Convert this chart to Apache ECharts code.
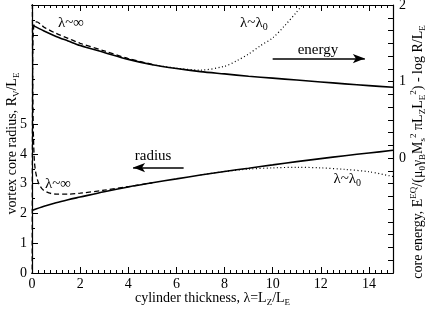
<!DOCTYPE html>
<html><head><meta charset="utf-8">
<script src="https://cdn.jsdelivr.net/npm/echarts@6/dist/echarts.min.js"></script>
<style>html,body{margin:0;padding:0;background:#fff}#c{width:431px;height:310px}</style>
</head><body><div id="c"></div>
<script>
// ---- data ----
const xTickLabels = [0, 2, 4, 6, 8, 10, 12, 14];
const leftTickLabels = [0, 1, 2, 3, 4, 5];
const rightTickLabels = [0, 1, 2];

// radius (left axis)  [lambda, R_V/L_E]
const radiusSolid = [[0,2.1],[0.5,2.24],[1,2.36],[1.5,2.46],[2,2.55],[3,2.73],[4,2.89],[5,3.03],[6,3.16],[7,3.29],[8,3.41],[9,3.52],[10,3.63],[11,3.74],[12,3.84],[13,3.94],[14,4.03],[15,4.12]];
const radiusInf = [[0.01,12],[0.02,8],[0.035,6],[0.05,5],[0.07,4.3],[0.1,3.75],[0.15,3.4],[0.22,3.15],[0.3,2.97],[0.45,2.8],[0.7,2.69],[1,2.65],[1.5,2.65],[2,2.68],[3,2.78],[4,2.9],[5,3.03]];
const radiusLam0 = [[7,3.29],[8,3.41],[9,3.49],[10,3.53],[11,3.55],[12,3.53],[13,3.48],[14,3.4],[15,3.24]];
// energy (right axis)
const energySolid = [[0,1.74],[0.5,1.66],[1,1.59],[1.5,1.53],[2,1.47],[3,1.38],[4,1.29],[5,1.22],[6,1.17],[7,1.13],[8,1.1],[9,1.07],[10,1.045],[11,1.02],[12,0.995],[13,0.97],[14,0.947],[15,0.925]];
const energyInf = [[0.005,-2.5],[0.01,-1],[0.015,0],[0.02,0.7],[0.03,1.3],[0.05,1.62],[0.1,1.76],[0.2,1.78],[0.35,1.75],[0.5,1.71],[1,1.63],[1.5,1.565],[2,1.5],[3,1.4],[4,1.3],[5,1.225]];
const energyLam0 = [[5,1.22],[6,1.175],[7,1.15],[8,1.2],[8.5,1.27],[9,1.36],[9.5,1.47],[10,1.57],[10.5,1.73],[11,1.91],[11.3,2.03]];

// annotations
const energyArrow = [[10.0,1.30],[13.83,1.30]];
const radiusArrow = [[6.3,3.54],[4.2,3.54]];

// ---- chart ----
const FONT = 'Liberation Serif';
const black = '#000';
const sub = {fontFamily: FONT, fontSize: 9, verticalAlign: 'bottom', lineHeight: 10, color: black};
const sup = {fontFamily: FONT, fontSize: 9, verticalAlign: 'top', lineHeight: 10, color: black};
const ann = {fontFamily: FONT, fontSize: 15, color: black, lineHeight: 18, rich: {s: Object.assign({}, sub, {fontSize: 10})}};

function mkX(pos, major, withLabel) {
  return {
    type: 'value', min: 0, max: 15, interval: major ? 2 : 0.25, position: pos,
    axisLine: {onZero: false, lineStyle: {color: black, width: 1.2}},
    axisTick: {inside: true, length: major ? 6 : 3, lineStyle: {color: black}},
    splitLine: {show: false},
    axisLabel: withLabel ? {show: true, margin: 4, fontFamily: FONT, fontSize: 14, color: black,
      showMaxLabel: false, formatter: v => xTickLabels.includes(v) ? String(v) : ''} : {show: false},
    name: withLabel ? 'cylinder thickness, λ=L{s|Z}/L{s|E}' : '',
    nameLocation: 'middle', nameGap: 16, nameMoveOverlap: false,
    nameTextStyle: {fontFamily: FONT, fontSize: 14, color: black, lineHeight: 18, rich: {s: sub}}
  };
}

const option = {
  animation: false,
  backgroundColor: '#fff',
  grid: {left: 32, right: 38, top: 5, bottom: 37, containLabel: false, outerBoundsMode: 'none'},
  xAxis: [mkX('bottom', true, true), mkX('bottom', false, false), mkX('top', true, false), mkX('top', false, false)],
  yAxis: [
    {
      type: 'value', min: 0, max: 9, interval: 1, position: 'left',
      axisLine: {onZero: false, lineStyle: {color: black, width: 1.2}},
      axisTick: {inside: true, length: 6, lineStyle: {color: black}},
      minorTick: {show: true, splitNumber: 2, length: 3, lineStyle: {color: black}},
      splitLine: {show: false}, minorSplitLine: {show: false},
      axisLabel: {margin: 5, fontFamily: FONT, fontSize: 14, color: black,
        formatter: v => leftTickLabels.includes(v) ? String(v) : ''},
      name: 'vortex core radius, R{s|V}/L{s|E}', nameLocation: 'middle', nameGap: 11, nameMoveOverlap: false,
      nameTextStyle: {fontFamily: FONT, fontSize: 14, color: black, lineHeight: 18, padding: [0, 9, 0, 0], rich: {s: sub}}
    },
    {
      type: 'value', min: -1.5, max: 2, interval: 1/6, position: 'right',
      axisLine: {onZero: false, lineStyle: {color: black, width: 1.2}},
      axisTick: {inside: true, length: 5, lineStyle: {color: black}},
      splitLine: {show: false},
      axisLabel: {margin: 6, fontFamily: FONT, fontSize: 14, color: black, showMinLabel: false,
        formatter: v => { const k = Math.round(v * 6); return (Math.abs(v * 6 - k) < 1e-6 && k % 6 === 0 && rightTickLabels.includes(k / 6)) ? String(k / 6) : ''; }},
      name: 'core energy, E{p|EQ}/(μ{s|0}γ{s|B}M{s|s}{p|2} πL{s|Z}L{s|E}{p|2}) - log R/L{s|E}',
      nameLocation: 'middle', nameGap: 16, nameMoveOverlap: false,
      nameTextStyle: {fontFamily: FONT, fontSize: 14, color: black, lineHeight: 18, padding: [0, 26, 0, 0], rich: {s: sub, p: sup}}
    }
  ],
  series: [
    {type: 'line', name: 'radius', xAxisIndex: 0, yAxisIndex: 0, data: radiusSolid, showSymbol: false, smooth: 0.3,
      lineStyle: {color: black, width: 1.6}, silent: true,
      markLine: {silent: true, symbol: ['none', 'arrow'], symbolSize: [7, 12], label: {show: false},
        lineStyle: {color: black, width: 1.5, type: 'solid'},
        data: [[{coord: radiusArrow[0]}, {coord: radiusArrow[1]}]]},
      markPoint: {silent: true, symbol: 'circle', symbolSize: 0, label: ann,
        data: [
          {coord: [5.03, 3.93], label: Object.assign({}, ann, {formatter: 'radius'})},
          {coord: [1.08, 3.0], label: Object.assign({}, ann, {formatter: 'λ~∞'})},
          {coord: [13.1, 3.16], label: Object.assign({}, ann, {formatter: 'λ~λ{s|0}'})}
        ]}},
    {type: 'line', name: 'radiusInf', xAxisIndex: 0, yAxisIndex: 0, data: radiusInf, showSymbol: false, smooth: 0.3,
      lineStyle: {color: black, width: 1.3, type: [5, 3]}, silent: true},
    {type: 'line', name: 'radiusLam0', xAxisIndex: 0, yAxisIndex: 0, data: radiusLam0, showSymbol: false, smooth: 0.3,
      lineStyle: {color: black, width: 1.2, type: [1, 2.5]}, silent: true},
    {type: 'line', name: 'energy', xAxisIndex: 0, yAxisIndex: 1, data: energySolid, showSymbol: false, smooth: 0.3,
      lineStyle: {color: black, width: 1.6}, silent: true,
      markLine: {silent: true, symbol: ['none', 'arrow'], symbolSize: [7, 12], label: {show: false},
        lineStyle: {color: black, width: 1.5, type: 'solid'},
        data: [[{coord: energyArrow[0]}, {coord: energyArrow[1]}]]},
      markPoint: {silent: true, symbol: 'circle', symbolSize: 0, label: ann,
        data: [
          {coord: [11.88, 1.41], label: Object.assign({}, ann, {formatter: 'energy'})},
          {coord: [1.62, 1.765], label: Object.assign({}, ann, {formatter: 'λ~∞'})},
          {coord: [9.22, 1.765], label: Object.assign({}, ann, {formatter: 'λ~λ{s|0}'})}
        ]}},
    {type: 'line', name: 'energyInf', xAxisIndex: 0, yAxisIndex: 1, data: energyInf, showSymbol: false, smooth: 0.3,
      lineStyle: {color: black, width: 1.3, type: [5, 3]}, silent: true},
    {type: 'line', name: 'energyLam0', xAxisIndex: 0, yAxisIndex: 1, data: energyLam0, showSymbol: false, smooth: 0.3,
      lineStyle: {color: black, width: 1.2, type: [1, 2.5]}, silent: true}
  ]
};
const chart = echarts.init(document.getElementById('c'), null, {renderer: 'canvas'});
chart.setOption(option);
</script></body></html>
